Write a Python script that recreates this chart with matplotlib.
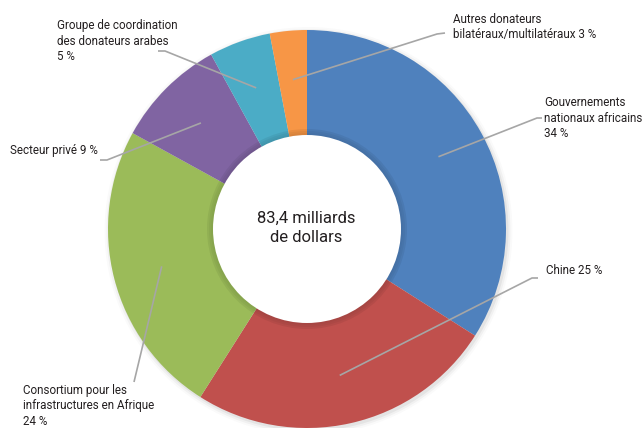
import numpy as np
import matplotlib
matplotlib.use("Agg")
import matplotlib.pyplot as plt
from matplotlib.patches import Circle

labels = [
    "Gouvernements\nnationaux africains\n34 %",
    "Chine 25 %",
    "Consortium pour les\ninfrastructures en Afrique\n24 %",
    "Secteur privé 9 %",
    "Groupe de coordination\ndes donateurs arabes\n5 %",
    "Autres donateurs\nbilatéraux/multilatéraux 3 %",
]
values = [34, 25, 24, 9, 5, 3]
colors = ["#4F81BD", "#C0504D", "#9BBB59", "#8064A2", "#4BACC6", "#F79646"]
center_text = "83,4 milliards\nde dollars"

W, H = 644, 428
fig = plt.figure(figsize=(W / 100, H / 100), dpi=100)
ax = fig.add_axes([0, 0, 1, 1])

def P(x, y):
    return (x, H - y)

cx, cy = P(307, 229)
R = 199
hole = 99

# subtle outer shadow
for i, a in enumerate([0.05, 0.035, 0.02]):
    ax.add_patch(Circle((cx + 1.5, cy - 2), R + 1 + i * 2, color="black", alpha=a, lw=0, zorder=0))

wedges, _ = ax.pie(values, colors=colors, startangle=90, counterclock=False,
                   center=(cx, cy), radius=R, frame=True,
                   wedgeprops=dict(width=R - hole + 6, linewidth=0))
ax.set_xlim(0, W)
ax.set_ylim(0, H)
ax.set_aspect("equal")
ax.axis("off")

# inner shadow at the hole edge
for i, a in enumerate([0.06, 0.04, 0.025]):
    ax.add_patch(Circle((cx, cy), hole + 1 - i * 2, color="black", alpha=a, lw=0, zorder=3))
ax.add_patch(Circle((cx, cy), hole - 5, color="white", lw=0, zorder=4))

font = ["Roboto", "DejaVu Sans"]
tc = "#231f20"
ax.text(cx - 1, cy + 1, center_text, ha="center", va="center", fontsize=12, color=tc,
        family=font, linespacing=1.35, zorder=5)

# leader layout: (elbow points in image coords, text pos)
layout = [
    ([(537, 118), (542, 118)], (544, 118)),
    ([(532, 278), (538, 278)], (546, 271)),
    ([(134, 382)], (23, 406)),
    ([(107, 160), (100, 160)], (10, 150)),
    ([(165, 51), (158, 51)], (57, 41)),
    ([(437, 34), (445, 33)], (453, 27)),
]

for w, lab, (pts, tpos) in zip(wedges, labels, layout):
    ang = np.deg2rad((w.theta1 + w.theta2) / 2)
    ax0 = cx + 150 * np.cos(ang)
    ay0 = cy + 150 * np.sin(ang)
    xs = [ax0] + [P(*p)[0] for p in pts]
    ys = [ay0] + [P(*p)[1] for p in pts]
    ax.plot(xs, ys, color="#a6a6a6", lw=1.2, zorder=6, solid_capstyle="butt")
    ax.text(*P(*tpos), lab, ha="left", va="center", fontsize=8.4, color=tc, family=font,
            linespacing=1.27, zorder=6)

fig.savefig("out.png", dpi=100)
